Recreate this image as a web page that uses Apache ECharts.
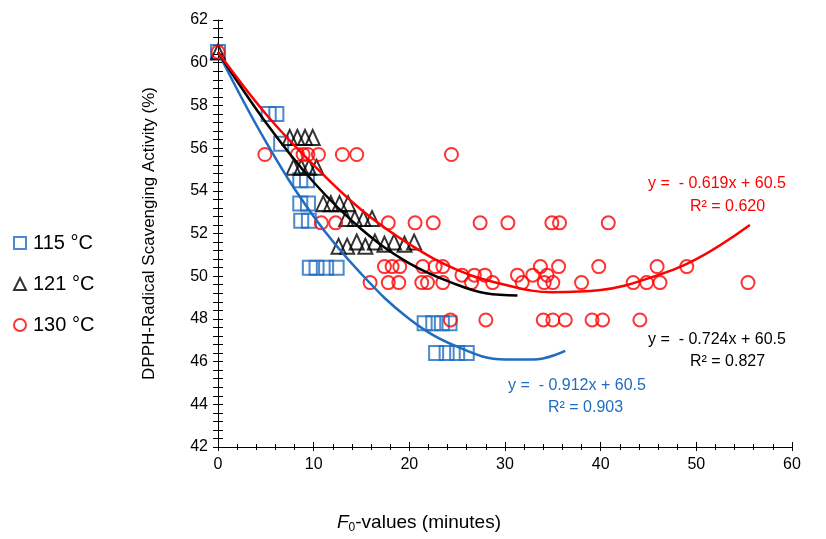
<!DOCTYPE html>
<html>
<head>
<meta charset="utf-8">
<script src="https://cdn.jsdelivr.net/npm/echarts@6/dist/echarts.min.js"></script>
<style>
  html, body { margin: 0; padding: 0; background: #fff; }
  #chart { width: 826px; height: 539px; }
</style>
</head>
<body>
<div id="chart"></div>
<script>
// 115 / 121 / 130 °C 下 DPPH 清除率与 F0 值
const seriesNames = ['115 °C', '121 °C', '130 °C'];

const pts115 = [
  [0, 60.5],
  [5.3, 57.6], [6.1, 57.6],
  [6.6, 56.2],
  [8.6, 54.5], [9.3, 54.5],
  [8.6, 53.4], [9.4, 53.4],
  [8.7, 52.6], [9.5, 52.6],
  [9.6, 50.4], [10.3, 50.4], [11.3, 50.4], [12.4, 50.4],
  [21.6, 47.8], [22.5, 47.8], [23.4, 47.8], [24.2, 47.8],
  [22.8, 46.4], [23.9, 46.4], [25.0, 46.4], [26.0, 46.4]
];

const pts121 = [
  [0, 60.5],
  [7.5, 56.5], [8.3, 56.5], [9.1, 56.5], [9.9, 56.5],
  [7.9, 55.1], [8.7, 55.1], [9.5, 55.1], [10.3, 55.1],
  [11.0, 53.4], [11.8, 53.4], [12.7, 53.4], [13.6, 53.4],
  [13.4, 52.7], [14.3, 52.7], [15.2, 52.7], [16.1, 52.7],
  [12.6, 51.4], [13.5, 51.4], [14.5, 51.6], [15.4, 51.4],
  [16.4, 51.6], [17.4, 51.5], [18.4, 51.6], [19.5, 51.5], [20.5, 51.6]
];

const pts130 = [
  [0, 60.5],
  [4.9, 55.7], [8.3, 55.7], [8.9, 55.7], [9.4, 55.7], [10.5, 55.7], [13.0, 55.7], [14.5, 55.7], [24.4, 55.7],
  [10.8, 52.5], [12.3, 52.5], [17.8, 52.5], [20.6, 52.5], [22.5, 52.5], [27.4, 52.5], [30.3, 52.5],
  [34.9, 52.5], [35.7, 52.5], [40.8, 52.5],
  [17.4, 50.45], [18.2, 50.45], [19.0, 50.45], [21.4, 50.45], [22.7, 50.45], [23.5, 50.45],
  [33.7, 50.45], [35.6, 50.45], [39.8, 50.45], [45.9, 50.45], [49.0, 50.45],
  [25.5, 50.05], [26.8, 50.05], [27.9, 50.05], [31.3, 50.05], [32.9, 50.05], [34.4, 50.05],
  [15.9, 49.7], [17.8, 49.7], [18.9, 49.7], [21.3, 49.7], [21.9, 49.7], [23.5, 49.7], [26.5, 49.7],
  [28.7, 49.7], [31.8, 49.7], [34.1, 49.7], [35.0, 49.7], [38.0, 49.7], [43.4, 49.7], [44.8, 49.7],
  [46.2, 49.7], [55.4, 49.7],
  [24.3, 47.95], [28.0, 47.95], [34.0, 47.95], [35.0, 47.95], [36.3, 47.95], [39.1, 47.95],
  [40.2, 47.95], [44.1, 47.95]
];

// 趋势线（从图上读取的点）
const trend115 = [[0, 60.5], [5, 56.3], [10, 52.8], [15, 50.1], [20, 48.0], [25, 46.7], [30, 46.1], [33, 46.1], [36.3, 46.5]];
const trend121 = [[0, 60.5], [5, 57.2], [10, 54.4], [15, 52.2], [20, 50.6], [25, 49.6], [28, 49.2], [31.3, 49.1]];
const trend130 = [[0, 60.5], [5, 57.6], [10, 55.2], [15, 53.1], [20, 51.5], [25, 50.3], [30, 49.6], [35, 49.25],
  [40, 49.35], [45, 49.9], [50, 50.8], [55.6, 52.4]];

const xTicks = [0, 10, 20, 30, 40, 50, 60];
const yTicks = [42, 44, 46, 48, 50, 52, 54, 56, 58, 60, 62];

const eqLabels = [
  { text: 'y =  - 0.619x + 60.5', x: 648, y: 186, color: '#ff0000' },
  { text: 'R² = 0.620', x: 690, y: 209, color: '#ff0000' },
  { text: 'y =  - 0.724x + 60.5', x: 648, y: 342, color: '#000000' },
  { text: 'R² = 0.827', x: 690, y: 364, color: '#000000' },
  { text: 'y =  - 0.912x + 60.5', x: 508, y: 388, color: '#1f6cc0' },
  { text: 'R² = 0.903', x: 548, y: 410, color: '#1f6cc0' }
];

function renderChart() {
  const dom = document.getElementById('chart');
  const chart = echarts.init(dom);
  const font = 'Liberation Sans, Arial, sans-serif';
  const blue = '#1f6cc0';
  const baseX = {
    type: 'value',
    min: xTicks[0],
    max: xTicks[xTicks.length - 1],
    interval: 10,
    splitLine: { show: false }
  };
  const baseY = {
    type: 'value',
    min: yTicks[0],
    max: yTicks[yTicks.length - 1],
    interval: 2,
    splitLine: { show: false }
  };
  const option = {
    animation: false,
    textStyle: { fontFamily: font },
    grid: { left: 218, right: 34, top: 20, bottom: 92 },
    legend: {
      data: seriesNames,
      orient: 'vertical',
      left: 8,
      top: 228,
      itemGap: 21,
      itemWidth: 12,
      itemHeight: 12,
      textStyle: { fontFamily: font, fontSize: 20, color: '#000', padding: [0, 0, 0, 2] }
    },
    xAxis: [
      Object.assign({}, baseX, {
        axisLine: { lineStyle: { color: '#000', width: 1 } },
        axisTick: { length: 4, lineStyle: { color: '#000' } },
        minorTick: { show: true, splitNumber: 5, length: 3, lineStyle: { color: '#000' } },
        axisLabel: { fontSize: 16, color: '#000', margin: 10 }
      }),
      Object.assign({}, baseX, {
        position: 'bottom',
        axisLine: { show: false },
        axisTick: { inside: true, length: 5, lineStyle: { color: '#000' } },
        minorTick: { show: true, splitNumber: 5, length: 3, lineStyle: { color: '#000' } },
        axisLabel: { show: false }
      })
    ],
    yAxis: [
      Object.assign({}, baseY, {
        name: 'DPPH-Radical Scavenging Activity (%)',
        nameLocation: 'middle',
        nameGap: 60,
        nameTextStyle: { fontSize: 17, color: '#000', fontFamily: font },
        axisLine: { show: true, lineStyle: { color: '#000', width: 1 } },
        axisTick: { show: true, length: 5, lineStyle: { color: '#000' } },
        minorTick: { show: true, splitNumber: 5, length: 5, lineStyle: { color: '#000' } },
        axisLabel: { fontSize: 16, color: '#000', margin: 10 }
      }),
      Object.assign({}, baseY, {
        position: 'left',
        axisLine: { show: false },
        axisTick: { show: true, inside: true, length: 5, lineStyle: { color: '#000' } },
        minorTick: { show: true, splitNumber: 5, length: 5, lineStyle: { color: '#000' } },
        axisLabel: { show: false }
      })
    ],
    series: [
      {
        name: '115 °C', type: 'scatter', symbol: 'rect', symbolSize: 14, data: pts115, z: 3,
        itemStyle: { color: 'rgba(255,255,255,0)', borderColor: blue, borderWidth: 2 }
      },
      {
        name: '121 °C', type: 'scatter', symbol: 'triangle', symbolSize: [14, 15], data: pts121, z: 3,
        itemStyle: { color: 'rgba(255,255,255,0)', borderColor: '#000', borderWidth: 2 }
      },
      {
        name: '130 °C', type: 'scatter', symbol: 'circle', symbolSize: 13, data: pts130, z: 3,
        itemStyle: { color: 'rgba(255,255,255,0)', borderColor: '#ff0000', borderWidth: 2 }
      },
      {
        name: 'trend115', type: 'line', data: trend115, smooth: 0.4, symbol: 'none', z: 4,
        lineStyle: { color: blue, width: 2.5 }
      },
      {
        name: 'trend121', type: 'line', data: trend121, smooth: 0.4, symbol: 'none', z: 4,
        lineStyle: { color: '#000', width: 2.5 }
      },
      {
        name: 'trend130', type: 'line', data: trend130, smooth: 0.4, symbol: 'none', z: 4,
        lineStyle: { color: '#ff0000', width: 2.5 }
      }
    ],
    graphic: eqLabels.map(function (t) {
      return {
        type: 'text', left: t.x, top: t.y - 10,
        style: { text: t.text, fill: t.color, font: '16px ' + font }
      };
    }).concat([{
      type: 'text', left: 337, top: 513,
      style: {
        text: '{i|F}{s|0}{n|-values (minutes)}',
        rich: {
          i: { fontStyle: 'italic', fontSize: 19, fontFamily: font, fill: '#000' },
          s: { fontSize: 12, fontFamily: font, fill: '#000', padding: [11, 0, 0, 0] },
          n: { fontSize: 19, fontFamily: font, fill: '#000' }
        }
      }
    }])
  };
  chart.setOption(option, true);
}
renderChart();
</script>
</body>
</html>
